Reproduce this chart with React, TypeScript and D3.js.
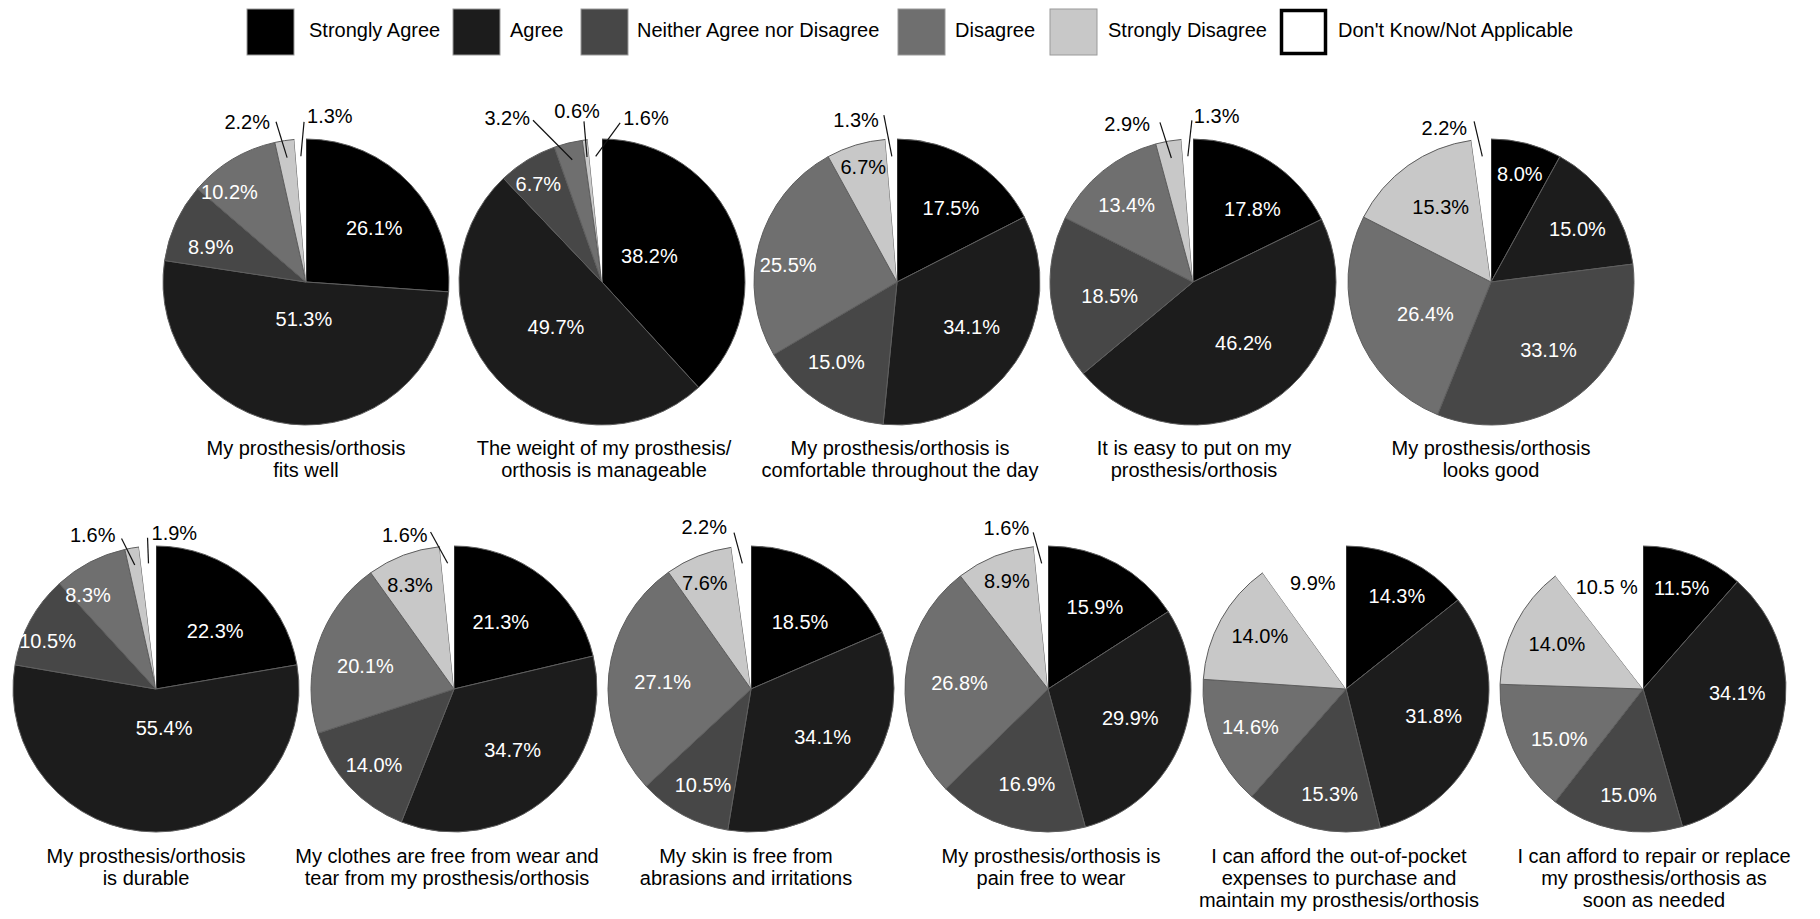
import React from "react";
import * as d3 from "d3";

// ---------- DATA ----------
const categories = [
  "Strongly Agree",
  "Agree",
  "Neither Agree nor Disagree",
  "Disagree",
  "Strongly Disagree",
  "Don't Know/Not Applicable",
];

const fitsWell = [26.1, 51.3, 8.9, 10.2, 2.2, 1.3];
const weightManageable = [38.2, 49.7, 6.7, 3.2, 0.6, 1.6];
const comfortable = [17.5, 34.1, 15.0, 25.5, 6.7, 1.3];
const easyToPutOn = [17.8, 46.2, 18.5, 13.4, 2.9, 1.3];
const looksGood = [8.0, 15.0, 33.1, 26.4, 15.3, 2.2];
const durable = [22.3, 55.4, 10.5, 8.3, 1.6, 1.9];
const clothesFree = [21.3, 34.7, 14.0, 20.1, 8.3, 1.6];
const skinFree = [18.5, 34.1, 10.5, 27.1, 7.6, 2.2];
const painFree = [15.9, 29.9, 16.9, 26.8, 8.9, 1.6];
const affordOutOfPocket = [14.3, 31.8, 15.3, 14.6, 14.0, 9.9];
const affordRepair = [11.5, 34.1, 15.0, 15.0, 14.0, 10.5];

const titles = [
  ["My prosthesis/orthosis", "fits well"],
  ["The weight of my prosthesis/", "orthosis is manageable"],
  ["My prosthesis/orthosis is", "comfortable throughout the day"],
  ["It is easy to put on my", "prosthesis/orthosis"],
  ["My prosthesis/orthosis", "looks good"],
  ["My prosthesis/orthosis", "is durable"],
  ["My clothes are free from wear and", "tear from my prosthesis/orthosis"],
  ["My skin is free from", "abrasions and irritations"],
  ["My prosthesis/orthosis is", "pain free to wear"],
  ["I can afford the out-of-pocket", "expenses to purchase and", "maintain my prosthesis/orthosis"],
  ["I can afford to repair or replace", "my prosthesis/orthosis as", "soon as needed"],
];

const series = [
  fitsWell, weightManageable, comfortable, easyToPutOn, looksGood,
  durable, clothesFree, skinFree, painFree, affordOutOfPocket, affordRepair,
];

// label text exceptions (as printed)
const labelOverrides: Record<string, string> = { "10-5": "10.5 %" };

// ---------- STYLE / LAYOUT ----------
const colors = ["#000000", "#1c1c1c", "#474747", "#6f6f6f", "#c8c8c8", "#ffffff"];
const labelColors = ["#ffffff", "#ffffff", "#ffffff", "#ffffff", "#000000", "#000000"];
const FONT = "'Liberation Sans', Arial, Helvetica, sans-serif";
const R = 143;
const centers: [number, number][] = [
  [306, 282], [602, 282], [897, 282], [1193, 282], [1491, 282],
  [156, 689], [454, 689], [751, 689], [1048, 689], [1346, 689], [1643, 689],
];
const titleDx = [0, 2, 3, 1, 0, -10, -7, -5, 3, -7, 11];
const titleBase = [455, 455, 455, 455, 455, 863, 863, 863, 863, 863, 863];
const LINE_H = 22;

// inside label placement: [radius fraction, angle tweak in degrees]
type LP = [number, number] | null;
const insideLabels: LP[][] = [
  [[0.61, 4.5], [0.26, -3], [0.71, -4.5], [0.83, -9.2], null, null],
  [[0.38, -8], [0.45, -1.3], [0.82, -1.4], null, null, null],
  [[0.64, 4.6], [0.61, -3], [0.7, 4.7], [0.77, -6.6], [0.84, 0.4], null],
  [[0.66, 7], [0.55, -7], [0.59, -2.6], [0.71, -1.6], null, null],
  [[0.78, 0.6], [0.71, 2.6], [0.62, -2.8], [0.51, -5.5], [0.63, 1.5], null],
  [[0.58, 5.4], [0.28, -11.6], [0.83, -4.6], [0.81, -8.4], null, null],
  [[0.57, -3.3], [0.59, -3.1], [0.77, -0.2], [0.64, -3.6], [0.79, -2.2], null],
  [[0.58, 2.9], [0.6, -4.5], [0.75, -1.7], [0.62, -1.4], [0.81, -1.9], null],
  [[0.66, 1.2], [0.61, -1.7], [0.68, -2.8], [0.62, -0.1], [0.81, 1], null],
  [[0.74, 3], [0.64, -2.1], [0.74, -4.8], [0.72, 0.6], [0.71, 2.8], [0.78, 0.5]],
  [[0.76, 0.2], [0.66, -10.4], [0.75, -3.2], [0.68, -5.5], [0.68, 0.7], [0.76, -0.6]],
];

// outside labels with leader lines
type OL = { i: number; a: number; r: number; anchor: string; dx: number; dy: number };
const outsideLabels: OL[][] = [
  [
    { i: 4, a: 349.4, r: 1.14, anchor: "end", dx: -6, dy: 7 },
    { i: 5, a: 359.3, r: 1.12, anchor: "start", dx: 3, dy: 1 },
  ],
  [
    { i: 3, a: 336.9, r: 1.23, anchor: "end", dx: -3, dy: 5 },
    { i: 4, a: 353.6, r: 1.13, anchor: "middle", dx: -7, dy: -3 },
    { i: 5, a: 6.5, r: 1.12, anchor: "start", dx: 3, dy: 2 },
  ],
  [{ i: 5, a: 355.5, r: 1.17, anchor: "end", dx: -5, dy: 12 }],
  [
    { i: 4, a: 348.3, r: 1.14, anchor: "end", dx: -10, dy: 9 },
    { i: 5, a: 359.6, r: 1.13, anchor: "start", dx: 2, dy: 3 },
  ],
  [{ i: 5, a: 354, r: 1.13, anchor: "end", dx: -7, dy: 14 }],
  [
    { i: 4, a: 347.1, r: 1.08, anchor: "end", dx: -6, dy: 4 },
    { i: 5, a: 356.8, r: 1.06, anchor: "start", dx: 4, dy: 2 },
  ],
  [{ i: 5, a: 351.5, r: 1.11, anchor: "end", dx: -3, dy: 10 }],
  [{ i: 5, a: 353.8, r: 1.1, anchor: "end", dx: -7, dy: 1 }],
  [{ i: 5, a: 354.6, r: 1.1, anchor: "end", dx: -4, dy: 3 }],
  [],
  [],
];

// legend layout
const legendSwatchX = [247, 453, 581, 898, 1050, 1280];
const legendTextX = [309, 510, 637, 955, 1108, 1338];

const deg = Math.PI / 180;

function Pie({ k }: { k: number }) {
  const values = series[k];
  const [cx, cy] = centers[k];
  const pie = d3.pie<number>().sort(null).value((d) => d).startAngle(0).endAngle(2 * Math.PI);
  const arcs = pie(values);
  const arc = d3.arc<d3.PieArcDatum<number>>().innerRadius(0).outerRadius(R);
  const fmt = (i: number) => labelOverrides[`${k}-${i}`] ?? `${values[i].toFixed(1)}%`;

  return (
    <g transform={`translate(${cx},${cy})`}>
      {arcs.map((a, i) => (
        <path
          key={i}
          d={arc(a) as string}
          fill={colors[i]}
          stroke={i === 5 ? "none" : "#5e5e5e"}
          strokeWidth={1}
        />
      ))}
      {arcs.map((a, i) => {
        const lp = insideLabels[k][i];
        if (!lp) return null;
        const mid = (a.startAngle + a.endAngle) / 2 + lp[1] * deg;
        const [x, y] = d3.pointRadial(mid, lp[0] * R);
        return (
          <text
            key={"l" + i}
            x={x}
            y={y}
            dy="0.36em"
            textAnchor="middle"
            fontFamily={FONT}
            fontSize={20}
            fill={labelColors[i]}
          >
            {fmt(i)}
          </text>
        );
      })}
      {outsideLabels[k].map((o, j) => {
        const a = arcs[o.i];
        const mid = (a.startAngle + a.endAngle) / 2;
        const [x1, y1] = d3.pointRadial(mid, 0.88 * R);
        const [x2, y2] = d3.pointRadial(o.a * deg, o.r * R);
        return (
          <g key={"o" + j}>
            <line x1={x1} y1={y1} x2={x2} y2={y2} stroke="#111" strokeWidth={1.2} />
            <text
              x={x2 + o.dx}
              y={y2 + o.dy}
              textAnchor={o.anchor as any}
              fontFamily={FONT}
              fontSize={20}
              fill="#000"
            >
              {fmt(o.i)}
            </text>
          </g>
        );
      })}
      {titles[k].map((line, li) => (
        <text
          key={"t" + li}
          x={titleDx[k]}
          y={titleBase[k] - cy + li * LINE_H}
          textAnchor="middle"
          fontFamily={FONT}
          fontSize={20}
          fill="#000"
        >
          {line}
        </text>
      ))}
    </g>
  );
}

export default function App() {
  return (
    <div style={{ position: "fixed", left: 0, top: 0, width: 1820, height: 919, background: "#fff" }}>
      <svg width={1820} height={919} style={{ display: "block" }}>
        <rect x={0} y={0} width={1820} height={919} fill="#fff" />
        {categories.map((c, i) => (
          <g key={c}>
            <rect
              x={legendSwatchX[i] + (i === 5 ? 1.5 : 0)}
              y={i === 5 ? 10.5 : 9}
              width={i === 5 ? 44 : 47}
              height={i === 5 ? 43 : 46}
              fill={colors[i]}
              stroke={i === 5 ? "#000" : "#9a9a9a"}
              strokeWidth={i === 5 ? 3.5 : 1}
            />
            <text x={legendTextX[i]} y={37} fontFamily={FONT} fontSize={20} fill="#000">
              {c}
            </text>
          </g>
        ))}
        {series.map((_, k) => (
          <Pie key={k} k={k} />
        ))}
      </svg>
    </div>
  );
}
